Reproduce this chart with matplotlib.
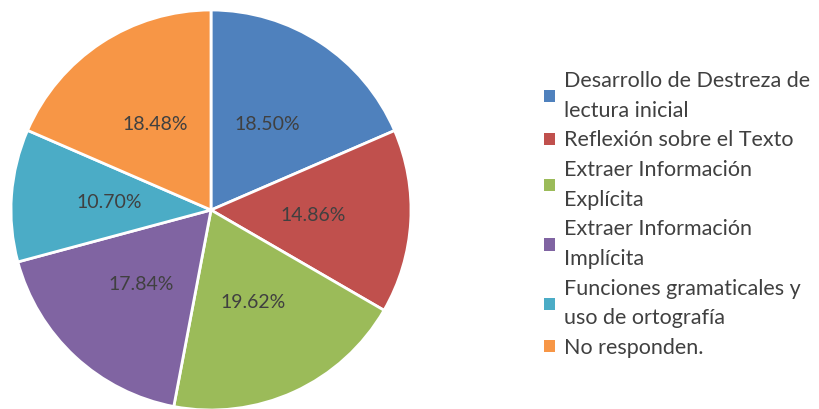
import matplotlib
matplotlib.use("Agg")
import matplotlib.pyplot as plt
from matplotlib.patches import Patch

# Data
categories = [
    "Desarrollo de Destreza de\nlectura inicial",
    "Reflexión sobre el Texto",
    "Extraer Información\nExplícita",
    "Extraer Información\nImplícita",
    "Funciones gramaticales y\nuso de ortografía",
    "No responden.",
]
percentages = [18.50, 14.86, 19.62, 17.84, 10.70, 18.48]
colors = ["#4F81BD", "#C0504D", "#9BBB59", "#8064A2", "#4BACC6", "#F79646"]

plt.rcParams['font.family'] = ['Lato', 'DejaVu Sans']

fig = plt.figure(figsize=(8.19, 4.09), dpi=100)
ax = fig.add_axes([11 / 819, -1 / 409, 400 / 819, 400 / 409])

wedges, texts, autotexts = ax.pie(
    percentages, colors=colors, startangle=90, counterclock=False,
    autopct='%1.2f%%', pctdistance=0.51, radius=1.0,
    wedgeprops=dict(edgecolor='white', linewidth=2),
    textprops=dict(color='#404040', fontsize=14),
)
ax.set_xlim(-1, 1)
ax.set_ylim(-1, 1)
ax.set_aspect('equal')

# legend to the right, squares + wrapped labels
handles = [Patch(facecolor=c, edgecolor='none') for c in colors]
leg = fig.legend(handles, categories, loc='upper left',
                 bbox_to_anchor=(544 / 819, 1 - 71 / 409),
                 frameon=False, fontsize=15.5, labelcolor='#404040',
                 handlelength=0.5, handleheight=0.5, handletextpad=0.45,
                 labelspacing=0.45, borderaxespad=0, borderpad=0)
for t in leg.get_texts():
    t.set_linespacing(1.6)

fig.savefig("out.png", dpi=100)
